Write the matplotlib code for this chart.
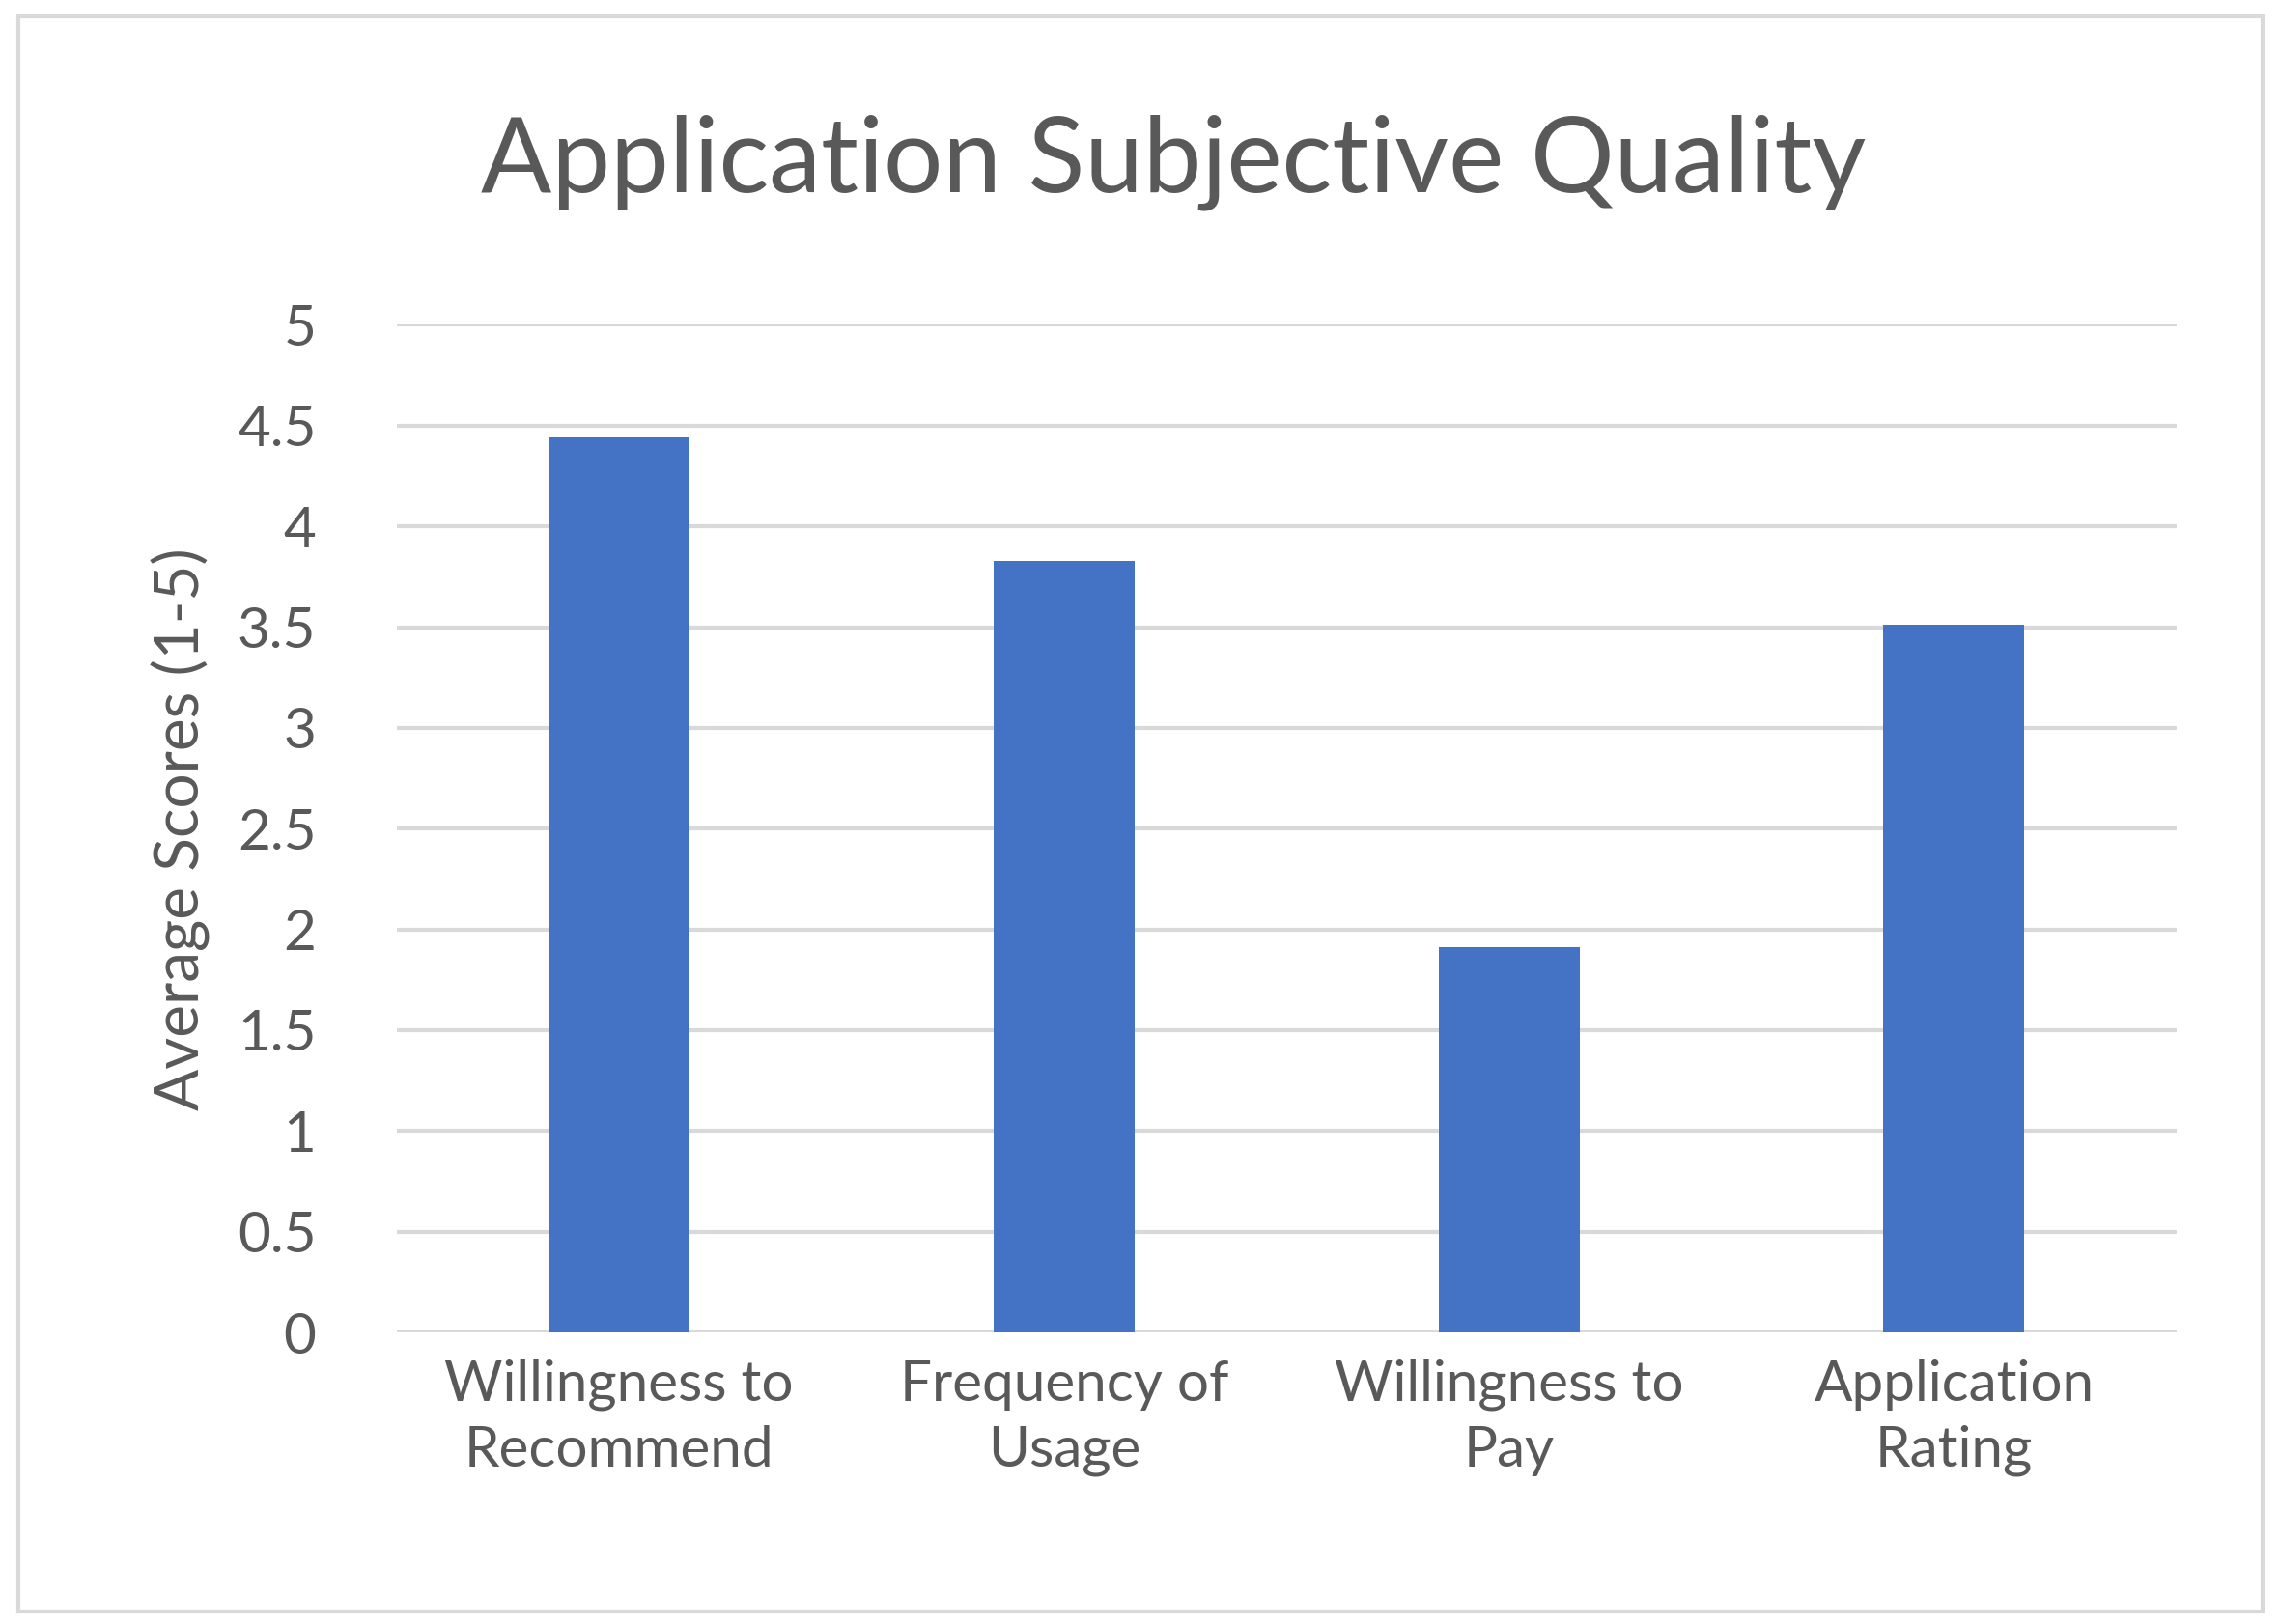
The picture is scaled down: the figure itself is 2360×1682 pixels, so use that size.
import matplotlib.pyplot as plt
from matplotlib.patches import Rectangle

categories = ["Willingness to\nRecommend", "Frequency of\nUsage", "Willingness to\nPay", "Application\nRating"]
scores = [4.44, 3.83, 1.91, 3.51]
yticks = [0, 0.5, 1, 1.5, 2, 2.5, 3, 3.5, 4, 4.5, 5]
ytick_labels = ["0", "0.5", "1", "1.5", "2", "2.5", "3", "3.5", "4", "4.5", "5"]

plt.rcParams["font.family"] = ["Lato", "DejaVu Sans"]
text_color = "#595959"

fig = plt.figure(figsize=(23.6, 16.82), dpi=100)
fig.patches.append(Rectangle((0.008, 0.008), 0.985, 0.982, transform=fig.transFigure,
                             fill=False, edgecolor="#D9D9D9", linewidth=3))
ax = fig.add_axes([0.174, 0.1795, 0.781, 0.6205])

x = range(len(categories))
ax.bar(x, scores, width=0.317, color="#4472C4", zorder=3)
ax.set_xlim(-0.5, 3.5)
ax.set_ylim(0, 5)
ax.set_yticks(yticks)
ax.set_yticklabels(ytick_labels)
ax.set_xticks(list(x))
ax.set_xticklabels(categories, linespacing=1.35)
ax.grid(axis="y", color="#D9D9D9", linewidth=3, zorder=0)
for s in ax.spines.values():
    s.set_visible(False)
ax.tick_params(length=0, labelsize=42, colors=text_color, pad=20)
ax.tick_params(axis="y", pad=60)
ax.set_ylabel("Average Scores (1-5)", fontsize=46, color=text_color, labelpad=20)
fig.text(0.515, 0.9, "Application Subjective Quality", fontsize=78, color=text_color,
         ha="center", va="center")

fig.savefig("out.png", dpi=100)
